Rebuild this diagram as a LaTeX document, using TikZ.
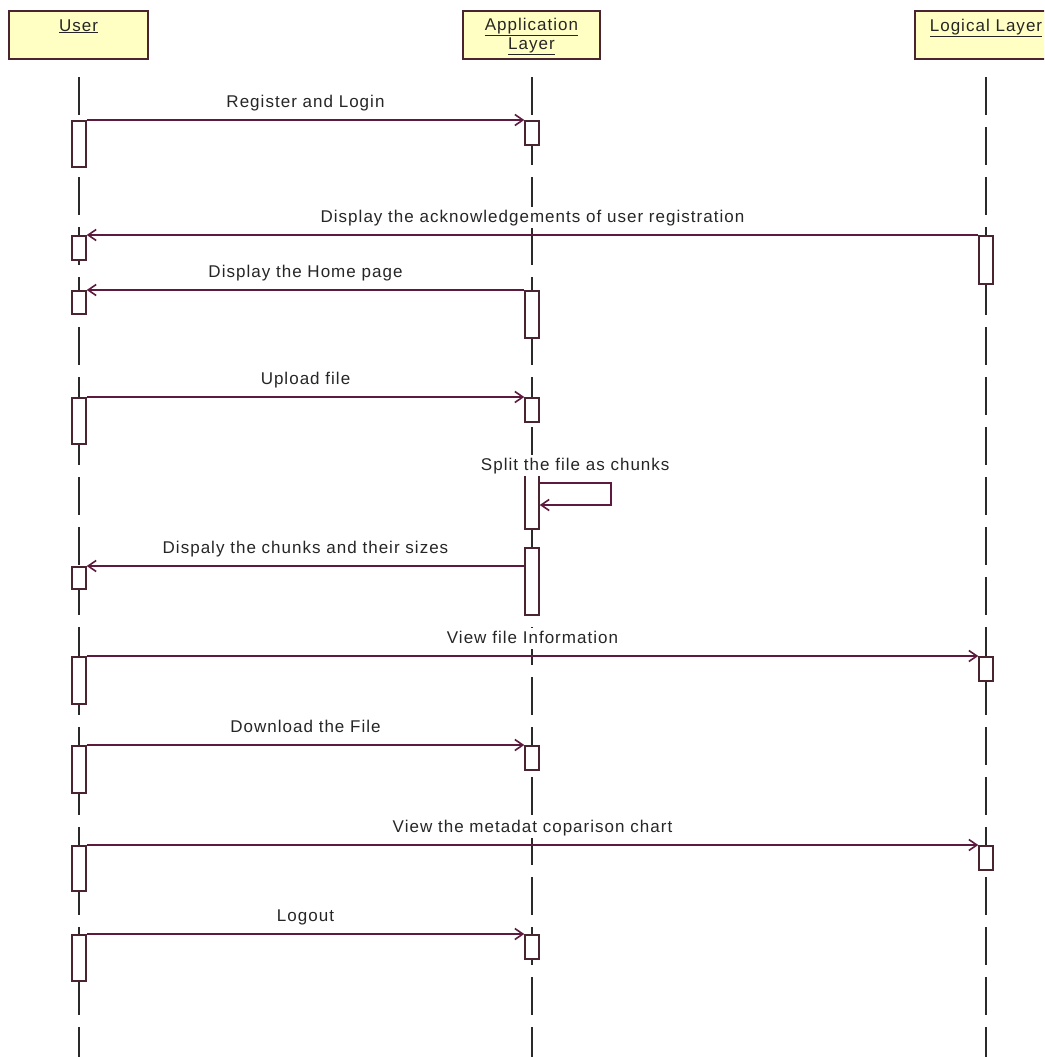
\documentclass[tikz,border=0pt]{standalone}
\usepackage{fontspec}
\setmainfont{Liberation Sans}[LetterSpace=6]
\usetikzlibrary{arrows.meta}
\definecolor{msgcol}{HTML}{5E1A3E}
\definecolor{boxline}{HTML}{4A2530}
\definecolor{headfill}{HTML}{FFFFC4}
\definecolor{lifecol}{HTML}{2A2A2A}
\tikzset{
  head/.style={draw=boxline, fill=headfill, line width=1.6pt, minimum height=48pt, inner sep=0pt},
  headtext/.style={anchor=north, align=center, inner sep=0pt, font=\fontsize{17}{19}\selectfont, text=black!85},
  lifeline/.style={draw=lifecol, line width=1.8pt, dash pattern=on 38pt off 12pt},
  act/.style={draw=boxline, fill=white, line width=1.5pt, minimum width=14pt, inner sep=0pt, anchor=north},
  msg/.style={draw=msgcol, line width=1.6pt, -{Straight Barb[length=8pt,width=11pt,line width=1.6pt]}},
  lbl/.style={font=\fontsize{17}{19}\selectfont, midway, above=6pt, inner sep=3pt, fill=white,
              text height=12pt, text depth=3pt, text=black!85}
}
\begin{document}
\begin{tikzpicture}[x=1pt,y=-1pt]
\useasboundingbox (0,0) rectangle (1044,1057);
\clip (0,0) rectangle (1044,1057);
\fill[white] (0,0) rectangle (1044,1057);

% participants
\node[head, minimum width=139pt] (user) at (78.5,35) {};
\node[headtext] (usertxt) at ([yshift=-9pt]user.north) {\underline{User}};
\node[head, minimum width=137pt] (app) at (531.5,35) {};
\node[headtext] (apptxt) at ([yshift=-8pt]app.north) {\underline{Application}\\\underline{Layer}};
\node[head, minimum width=142pt] (logic) at (986,35) {};
\node[headtext] (logictxt) at ([yshift=-9pt]logic.north) {\underline{Logical Layer}};

% lifelines
\coordinate (uTop) at (79,77);   \coordinate (uEnd) at (79,1060);
\coordinate (aTop) at (532,77);  \coordinate (aEnd) at (532,1060);
\coordinate (lTop) at (986,77);  \coordinate (lEnd) at (986,1060);
\draw[lifeline] (uTop) -- (uEnd);
\draw[lifeline] (aTop) -- (aEnd);
\draw[lifeline] (lTop) -- (lEnd);

% activation bars: User
\node[act, minimum height=46pt] (u1) at (79,120) {};
\node[act, minimum height=24pt] (u2) at (79,235) {};
\node[act, minimum height=23pt] (u3) at (79,290) {};
\node[act, minimum height=46pt] (u4) at (79,397) {};
\node[act, minimum height=22pt] (u5) at (79,566) {};
\node[act, minimum height=47pt] (u6) at (79,656) {};
\node[act, minimum height=47pt] (u7) at (79,745) {};
\node[act, minimum height=45pt] (u8) at (79,845) {};
\node[act, minimum height=46pt] (u9) at (79,934) {};
% activation bars: Application Layer
\node[act, minimum height=24pt] (a1) at (532,120) {};
\node[act, minimum height=47pt] (a2) at (532,290) {};
\node[act, minimum height=24pt] (a3) at (532,397) {};
\node[act, minimum height=56pt] (a4) at (532,472) {};
\node[act, minimum height=67pt] (a5) at (532,547) {};
\node[act, minimum height=24pt] (a6) at (532,745) {};
\node[act, minimum height=24pt] (a7) at (532,934) {};
% activation bars: Logical Layer
\node[act, minimum height=48pt] (l1) at (986,235) {};
\node[act, minimum height=24pt] (l2) at (986,656) {};
\node[act, minimum height=24pt] (l3) at (986,845) {};

% messages
\draw[msg] (u1.north east) -- node[lbl]{Register and Login} (a1.north west);
\draw[msg] (l1.north west) -- node[lbl]{Display the acknowledgements of user registration} (u2.north east);
\draw[msg] (a2.north west) -- node[lbl]{Display the Home page} (u3.north east);
\draw[msg] (u4.north east) -- node[lbl]{Upload file} (a3.north west);
\draw[msg] ([yshift=-11pt]a4.north east) -- node[lbl]{Split the file as chunks} ++(71,0)
           -- ++(0,22) -- ([yshift=-33pt]a4.north east);
\draw[msg] (a5.west |- u5.north) -- node[lbl]{Dispaly the chunks and their sizes} (u5.north east);
\draw[msg] (u6.north east) -- node[lbl]{View file Information} (l2.north west);
\draw[msg] (u7.north east) -- node[lbl]{Download the File} (a6.north west);
\draw[msg] (u8.north east) -- node[lbl]{View the metadat coparison chart} (l3.north west);
\draw[msg] (u9.north east) -- node[lbl]{Logout} (a7.north west);
\end{tikzpicture}
\end{document}
